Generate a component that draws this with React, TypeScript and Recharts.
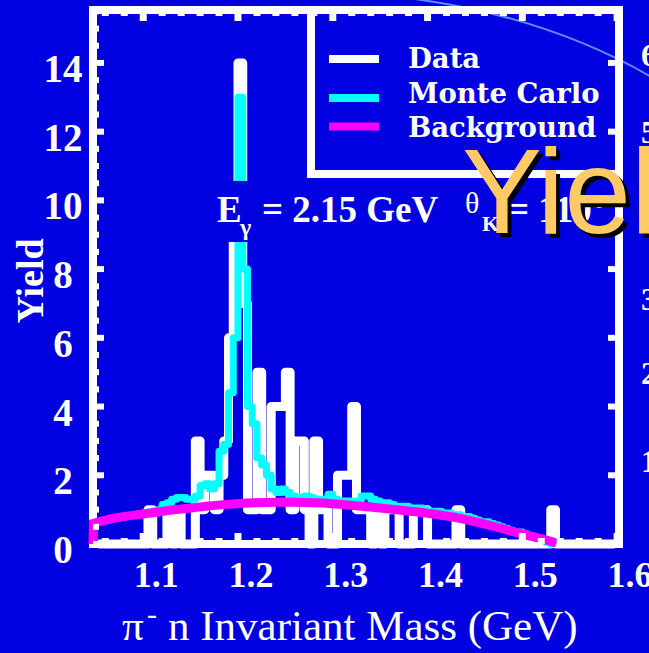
import React from 'react';
import { ComposedChart, Line, XAxis, YAxis, ReferenceArea } from 'recharts';

// histogram binning (GeV)
const BIN_LOW = 1.05;
const BIN_WIDTH = 0.005;

// data counts per bin
const dataCounts = [
  0, 0, 0, 0, 0, 0, 0, 0, 0, 0,
  0, 1, 0, 0, 0, 1, 0, 1, 0, 0,
  0, 3, 1, 2, 2, 1, 2, 3, 6, 10,
  14, 7, 1, 1, 5, 1, 1, 4, 4, 4,
  5, 1, 3, 3, 1, 0, 3, 1, 1, 0,
  0, 2, 2, 2, 4, 1, 1, 1, 0, 1,
  0, 1, 1, 1, 0, 0, 0, 1, 1, 1,
  0, 0, 0, 0, 0, 0, 1, 0, 0, 0,
  0, 0, 0, 0, 0, 0, 0, 0, 0, 0,
  0, 0, 0, 0, 0, 0, 1, 0, 0, 0,
  0, 0, 0, 0, 0, 0, 0, 0, 0, 0,
];

// Monte Carlo per bin (same binning)
const mcCounts = [
  0.65, 0.68, 0.7, 0.73, 0.76, 0.78, 0.8, 0.83, 0.86, 0.88,
  0.9, 0.93, 0.96, 1.0, 1.15, 1.2, 1.3, 1.35, 1.35, 1.3,
  1.3, 1.4, 1.7, 1.75, 1.6, 1.75, 2.7, 2.9, 4.4, 6.0,
  13, 8, 4.0, 3.5, 2.5, 2.3, 2.0, 1.6, 1.5, 1.6,
  1.5, 1.4, 1.25, 1.35, 1.4, 1.35, 1.3, 1.3, 1.3, 1.45,
  1.3, 1.25, 1.25, 1.25, 1.2, 1.25, 1.4, 1.4, 1.3, 1.25,
  1.2, 1.2, 1.15, 1.1, 1.1, 1.1, 1.05, 1.05, 1.05, 1.0,
  0.95, 0.95, 0.95, 0.9, 0.9, 0.85, 0.85, 0.8, 0.8, 0.75,
  0.7, 0.65, 0.65, 0.6, 0.55, 0.5, 0.45, 0.4, 0.35, 0.35,
  0.3, 0.25, 0.2, 0.15, 0.1, 0.05, 0,
];

// background curve
const bgMass = [
  1.047, 1.0475, 1.055, 1.07, 1.09, 1.11, 1.13, 1.15, 1.17, 1.19,
  1.21, 1.23, 1.25, 1.27, 1.29, 1.31, 1.33, 1.35, 1.37, 1.39,
  1.41, 1.43, 1.45, 1.47, 1.49, 1.51, 1.53, 1.536,
];
const bgYield = [
  0, 0.6, 0.66, 0.76, 0.84, 0.91, 0.99, 1.05, 1.11, 1.16,
  1.19, 1.21, 1.22, 1.21, 1.19, 1.15, 1.1, 1.05, 0.99, 0.93,
  0.86, 0.77, 0.65, 0.51, 0.36, 0.22, 0.08, 0.02,
];

const xMajor = [1.1, 1.2, 1.3, 1.4, 1.5, 1.6];
const xTicks = [
  1.06, 1.08, 1.1, 1.12, 1.14, 1.16, 1.18, 1.2, 1.22, 1.24, 1.26, 1.28, 1.3, 1.32,
  1.34, 1.36, 1.38, 1.4, 1.42, 1.44, 1.46, 1.48, 1.5, 1.52, 1.54, 1.56, 1.58, 1.6,
];
const yTicks = [
  0, 0.5, 1, 1.5, 2, 2.5, 3, 3.5, 4, 4.5, 5, 5.5, 6, 6.5, 7, 7.5,
  8, 8.5, 9, 9.5, 10, 10.5, 11, 11.5, 12, 12.5, 13, 13.5, 14, 14.5, 15, 15.5,
];
const rightLabels = ['6', '5', '3', '2', '1'];
const rightLabelY = [66, 143, 310, 384, 472];

const X_MIN = 1.047;
const X_MAX = 1.602;
const Y_MAX = 15.54;

const W = 649;
const H = 653;
const PLOT = { left: 93, right: 619, top: 10, bottom: 544 };
const BLUE = '#0000E0';
const SERIF = 'Liberation Serif, Times New Roman, serif';
const WIDE_SERIF = 'DejaVu Serif, serif';

const dataPts = dataCounts.map((c, i) => ({ m: BIN_LOW + BIN_WIDTH * (i + 0.5), y: c }));
const mcPts = mcCounts.map((c, i) => ({ m: BIN_LOW + BIN_WIDTH * (i + 0.5), y: c }));
const bgPts = bgMass.map((m, i) => ({ m, y: bgYield[i] }));

const XTick = (props: any) => {
  const { x, payload } = props;
  const v = payload.value as number;
  const major = xMajor.some((m) => Math.abs(m - v) < 1e-6);
  const len = major ? 11 : 6;
  return (
    <g>
      <line x1={x} x2={x} y1={PLOT.bottom} y2={PLOT.bottom - len} stroke="#fff" strokeWidth={7} />
      <line x1={x} x2={x} y1={PLOT.top} y2={PLOT.top + len} stroke="#fff" strokeWidth={7} />
      {major && (
        <text x={x + 13} y={587} textAnchor="middle" fill="#fff" fontFamily={SERIF} fontWeight="bold" fontSize={36}>
          {v.toFixed(1)}
        </text>
      )}
    </g>
  );
};

const YTick = (props: any) => {
  const { y, payload } = props;
  const v = payload.value as number;
  const major = v % 2 === 0;
  const len = major ? 11 : 6;
  return (
    <g>
      <line x1={PLOT.left} x2={PLOT.left + len} y1={y} y2={y} stroke="#fff" strokeWidth={6} />
      {major && <line x1={PLOT.right} x2={PLOT.right - len} y1={y} y2={y} stroke="#fff" strokeWidth={6} />}
      {major && (
        <text x={63} y={y + 19} textAnchor="middle" fill="#fff" fontFamily={SERIF} fontWeight="bold" fontSize={39}>
          {v}
        </text>
      )}
    </g>
  );
};

export default function App() {
  return (
    <div style={{ position: 'fixed', left: 0, top: 0, width: W, height: H, background: BLUE, overflow: 'hidden' }}>
      {/* slide decoration behind the plot */}
      <svg width={W} height={H} style={{ position: 'absolute', left: 0, top: 0 }}>
        <path d="M 380 -5 Q 540 10 660 82" fill="none" stroke="#5b8cff" strokeWidth={2} />
      </svg>

      <div style={{ position: 'absolute', left: 0, top: 0 }}>
        <ComposedChart
          width={W}
          height={H}
          margin={{ left: PLOT.left - 2, right: W - PLOT.right, top: PLOT.top, bottom: H - PLOT.bottom - 2 }}
        >
          <XAxis
            dataKey="m"
            type="number"
            domain={[X_MIN, X_MAX]}
            ticks={xTicks}
            interval={0}
            height={2}
            tickLine={false}
            axisLine={false}
            tick={(p: any) => <XTick {...p} />}
          />
          <YAxis
            type="number"
            domain={[0, Y_MAX]}
            ticks={yTicks}
            interval={0}
            width={2}
            tickLine={false}
            axisLine={false}
            tick={(p: any) => <YTick {...p} />}
          />
          <ReferenceArea
            x1={X_MIN}
            x2={X_MAX}
            y1={0}
            y2={Y_MAX}
            fill="none"
            stroke="#fff"
            strokeWidth={8}
            ifOverflow="visible"
          />
          <Line
            data={dataPts}
            dataKey="y"
            type="step"
            stroke="#ffffff"
            strokeWidth={9}
            strokeLinejoin="round"
            dot={false}
            activeDot={false}
            isAnimationActive={false}
          />
          <Line
            data={mcPts}
            dataKey="y"
            type="step"
            stroke="#00ffff"
            strokeWidth={7}
            strokeLinejoin="round"
            dot={false}
            activeDot={false}
            isAnimationActive={false}
          />
          <Line
            data={bgPts}
            dataKey="y"
            type="linear"
            stroke="#ff00ff"
            strokeWidth={9}
            dot={false}
            activeDot={false}
            isAnimationActive={false}
          />
        </ComposedChart>
      </div>

      {/* annotations, legend, titles */}
      <svg width={W} height={H} style={{ position: 'absolute', left: 0, top: 0, pointerEvents: 'none' }}>
        <rect x={205} y={181} width={405} height={61} fill={BLUE} />
        <g fill="#fff" fontFamily={SERIF} fontWeight="bold">
          <text x={217} y={222} fontSize={37}>E</text>
          <text x={240} y={235} fontSize={24}>γ</text>
          <text x={262} y={222} fontSize={37}>= 2.15 GeV</text>
          <text x={465} y={213} fontSize={30} fontWeight="normal">θ</text>
          <text x={482} y={231} fontSize={22}>K</text>
          <text x={508} y={222} fontSize={37}>= 110°</text>
        </g>

        <rect x={311} y={10} width={308} height={164} fill="none" stroke="#fff" strokeWidth={8} />
        <line x1={329} x2={379} y1={59} y2={59} stroke="#ffffff" strokeWidth={8} />
        <line x1={329} x2={379} y1={98} y2={98} stroke="#00ffff" strokeWidth={8} />
        <line x1={329} x2={379} y1={126.5} y2={126.5} stroke="#ff00ff" strokeWidth={8} />
        <g fill="#fff" fontFamily={WIDE_SERIF} fontWeight="bold" fontSize={27.5}>
          <text x={408} y={68}>Data</text>
          <text x={408} y={103}>Monte Carlo</text>
          <text x={408} y={137}>Background</text>
        </g>

        <text
          x={43}
          y={281}
          transform="rotate(-90 43 281)"
          textAnchor="middle"
          fill="#fff"
          fontFamily={SERIF}
          fontWeight="bold"
          fontSize={38}
        >
          Yield
        </text>

        <g fill="#fff" fontFamily={SERIF} fontSize={43}>
          <text x={122} y={640}>π</text>
          <text x={147} y={624} fontSize={30}>-</text>
          <text x={168} y={640}>n Invariant Mass (GeV)</text>
        </g>

        <g fill="#fff" fontFamily={SERIF} fontWeight="bold" fontSize={32}>
          {rightLabels.map((t, i) => (
            <text key={t} x={641} y={rightLabelY[i]}>
              {t}
            </text>
          ))}
        </g>

        <text x={466} y={237} fontFamily="Liberation Sans, Arial, sans-serif" fontSize={120} fill="#000">
          Yield
        </text>
        <text x={462} y={233} fontFamily="Liberation Sans, Arial, sans-serif" fontSize={120} fill="#FFC966">
          Yield
        </text>
      </svg>
    </div>
  );
}
